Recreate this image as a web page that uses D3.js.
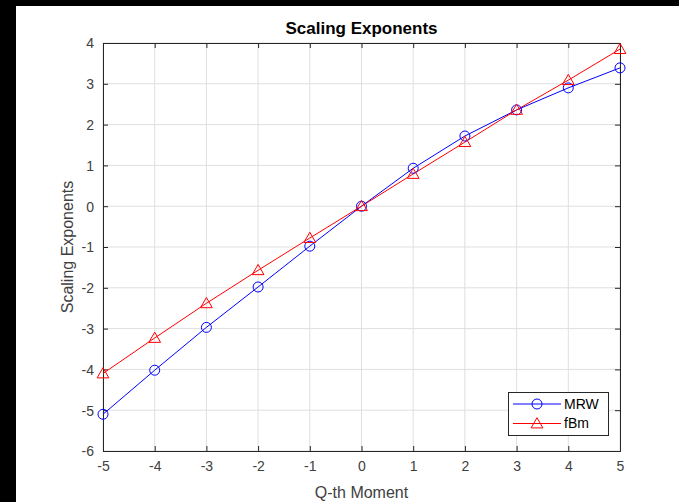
<!DOCTYPE html>
<html><head><meta charset="utf-8">
<script src="https://cdn.jsdelivr.net/npm/d3@7"></script>
<style>body{margin:0;background:#fff;}svg{display:block;font-family:"Liberation Sans",Arial,sans-serif;}</style>
</head><body>
<svg id="c" width="679" height="502"></svg>
<script>
const qValues = [-5,-4,-3,-2,-1,0,1,2,3,4,5];
const mrwValues = [-5.1,-4.02,-2.97,-1.98,-0.98,0,0.93,1.72,2.36,2.9,3.39];
const fbmValues = [-4.1,-3.23,-2.38,-1.57,-0.78,0,0.79,1.57,2.36,3.09,3.85];
const xTicks = [-5,-4,-3,-2,-1,0,1,2,3,4,5];
const yTicks = [-6,-5,-4,-3,-2,-1,0,1,2,3,4];

const svg = d3.select("#c");
svg.append("rect").attr("x",0).attr("y",0).attr("width",679).attr("height",502).attr("fill","#000");
svg.append("rect").attr("x",16).attr("y",6).attr("width",663).attr("height",496).attr("fill","#fff");

const L=103,R=620,T=43,B=451;
const x=d3.scaleLinear().domain([-5,5]).range([L,R]);
const y=d3.scaleLinear().domain([-6,4]).range([B,T]);
const axisCol="#262626";
const tickCol="#404040";
const fmt=d=>String(d);

const g=svg.append("g");
g.selectAll(".gx").data(xTicks).enter().append("line")
 .attr("x1",d=>x(d)).attr("x2",d=>x(d)).attr("y1",T).attr("y2",B)
 .attr("stroke","#dfdfdf").attr("stroke-width",1);
g.selectAll(".gy").data(yTicks).enter().append("line")
 .attr("y1",d=>y(d)).attr("y2",d=>y(d)).attr("x1",L).attr("x2",R)
 .attr("stroke","#dfdfdf").attr("stroke-width",1);

const tl=5;
const xa=svg.append("g").attr("transform",`translate(0,${B})`)
 .call(d3.axisBottom(x).tickValues(xTicks).tickSize(-tl).tickPadding(10).tickFormat(fmt));
const xt=svg.append("g").attr("transform",`translate(0,${T})`)
 .call(d3.axisTop(x).tickValues(xTicks).tickSize(-tl).tickFormat(""));
const ya=svg.append("g").attr("transform",`translate(${L},0)`)
 .call(d3.axisLeft(y).tickValues(yTicks).tickSize(-tl).tickPadding(9).tickFormat(fmt));
const yr=svg.append("g").attr("transform",`translate(${R},0)`)
 .call(d3.axisRight(y).tickValues(yTicks).tickSize(-tl).tickFormat(""));
[xa,xt,ya,yr].forEach(a=>{
  a.select(".domain").attr("stroke",axisCol);
  a.selectAll(".tick line").attr("stroke",axisCol);
  a.selectAll("text").attr("fill",tickCol).attr("font-size",14).attr("font-family","Liberation Sans, Arial, sans-serif");
});
ya.selectAll(".tick text").attr("dy","0.35em");

const line=d3.line().x((d,i)=>x(qValues[i])).y(d=>y(d));
svg.append("path").datum(mrwValues).attr("d",line).attr("fill","none").attr("stroke","#0000ff").attr("stroke-width",1);
svg.append("path").datum(fbmValues).attr("d",line).attr("fill","none").attr("stroke","#ff0000").attr("stroke-width",1);
const tri=d3.symbol().type(d3.symbolTriangle).size(60);
svg.selectAll(".m1").data(mrwValues).enter().append("circle")
 .attr("cx",(d,i)=>x(qValues[i])).attr("cy",d=>y(d)).attr("r",5)
 .attr("fill","none").attr("stroke","#0000ff").attr("stroke-width",1);
svg.selectAll(".m2").data(fbmValues).enter().append("path")
 .attr("d",tri).attr("transform",(d,i)=>`translate(${x(qValues[i])},${y(d)+1})`)
 .attr("fill","none").attr("stroke","#ff0000").attr("stroke-width",1);

svg.append("text").attr("x",(L+R)/2).attr("y",34).attr("text-anchor","middle")
 .attr("font-size",17).attr("font-weight","bold").attr("fill","#000").text("Scaling Exponents");
svg.append("text").attr("x",(L+R)/2).attr("y",498).attr("text-anchor","middle")
 .attr("font-size",16).attr("fill",tickCol).text("Q-th Moment");
svg.append("text").attr("transform",`translate(73,${(T+B)/2}) rotate(-90)`).attr("text-anchor","middle")
 .attr("font-size",16).attr("fill",tickCol).text("Scaling Exponents");

const lg=svg.append("g");
lg.append("rect").attr("x",508.5).attr("y",392.5).attr("width",100).attr("height",43)
 .attr("fill","#fff").attr("stroke",axisCol).attr("stroke-width",1);
const leg=[{name:"MRW",c:"#0000ff",m:"c"},{name:"fBm",c:"#ff0000",m:"t"}];
leg.forEach((e,i)=>{
  const yy=404+i*19.5;
  lg.append("line").attr("x1",513).attr("x2",561).attr("y1",yy).attr("y2",yy).attr("stroke",e.c);
  if(e.m==="c") lg.append("circle").attr("cx",537).attr("cy",yy).attr("r",5).attr("fill","none").attr("stroke",e.c);
  else lg.append("path").attr("d",tri).attr("transform",`translate(537,${yy+1})`).attr("fill","none").attr("stroke",e.c);
  lg.append("text").attr("x",564).attr("y",yy).attr("dy","0.35em").attr("font-size",14).attr("fill","#000").text(e.name);
});
</script>
</body></html>
